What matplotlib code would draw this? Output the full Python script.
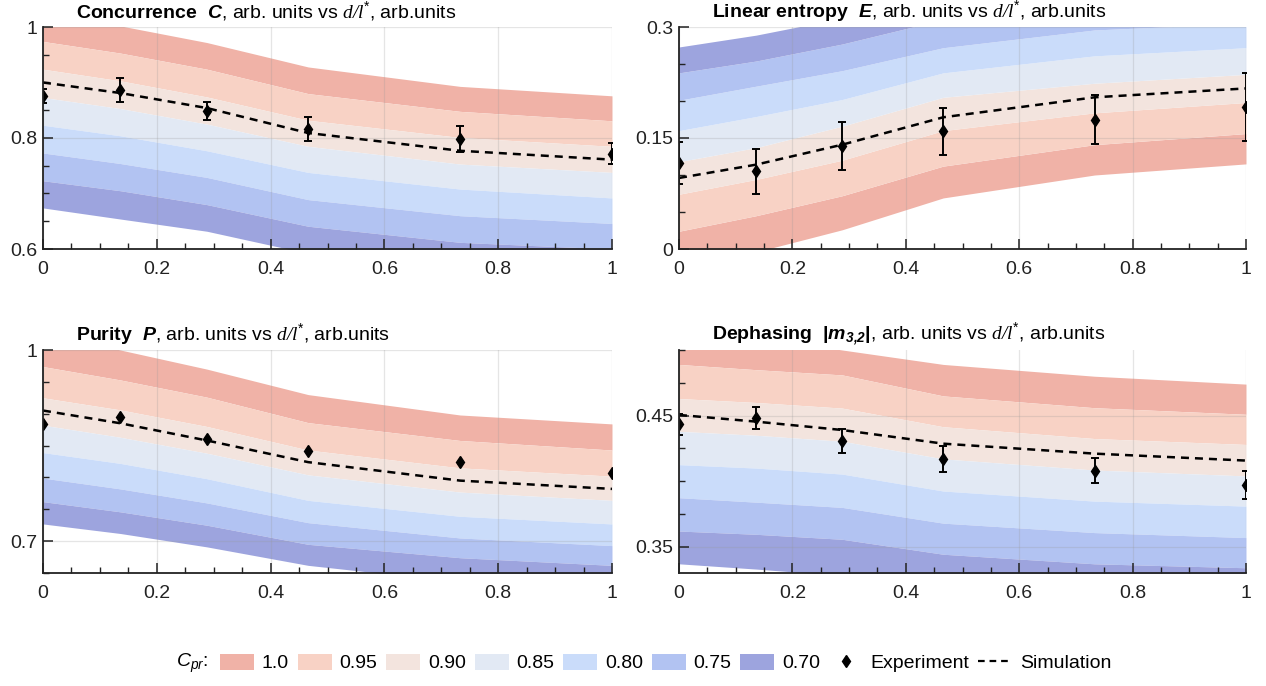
import matplotlib
matplotlib.use('Agg')
import matplotlib.pyplot as plt
from matplotlib.patches import Patch
from matplotlib.lines import Line2D
from matplotlib.ticker import MultipleLocator, FuncFormatter

plt.rcParams['font.family'] = ['Liberation Sans', 'DejaVu Sans']
plt.rcParams['mathtext.fontset'] = 'custom'
plt.rcParams['mathtext.rm'] = 'Liberation Sans'
plt.rcParams['mathtext.it'] = 'Liberation Sans:italic'
plt.rcParams['mathtext.bf'] = 'Liberation Sans:bold'
plt.rcParams['mathtext.bfit'] = 'Liberation Sans:italic:bold'
plt.rcParams['mathtext.cal'] = 'Liberation Serif:italic'

# d/l* positions of the measurements
x = [0, 0.136, 0.288, 0.466, 0.733, 1.0]

levels = ['1.0', '0.95', '0.90', '0.85', '0.80', '0.75', '0.70']
band_colors = ['#F0B2A7', '#F8D2C5', '#F3E4DE', '#E2E9F4', '#CADCFA', '#B2C3F2', '#9DA4DE']

# band edges, outer edge of C_pr=1.0 first, then each boundary down to 0.70
conc_edges = [
    [1.025, 1.002, 0.972, 0.928, 0.893, 0.876],
    [0.974, 0.953, 0.924, 0.880, 0.848, 0.831],
    [0.924, 0.903, 0.874, 0.832, 0.801, 0.785],
    [0.873, 0.853, 0.825, 0.785, 0.753, 0.738],
    [0.823, 0.804, 0.777, 0.738, 0.708, 0.692],
    [0.773, 0.754, 0.729, 0.689, 0.660, 0.646],
    [0.723, 0.705, 0.680, 0.641, 0.612, 0.600],
    [0.674, 0.654, 0.632, 0.592, 0.565, 0.553],
]
conc_sim = [0.900, 0.881, 0.854, 0.809, 0.777, 0.761]
conc_exp = [0.876, 0.886, 0.849, 0.816, 0.798, 0.772]
conc_err = [0.013, 0.022, 0.0165, 0.021, 0.023, 0.019]

ent_edges = [
    [-0.030, -0.004, 0.026, 0.069, 0.100, 0.115],
    [0.024, 0.045, 0.072, 0.112, 0.141, 0.156],
    [0.074, 0.094, 0.120, 0.160, 0.184, 0.198],
    [0.118, 0.137, 0.166, 0.205, 0.224, 0.236],
    [0.160, 0.179, 0.202, 0.238, 0.261, 0.272],
    [0.201, 0.220, 0.241, 0.272, 0.296, 0.305],
    [0.238, 0.254, 0.277, 0.310, 0.332, 0.342],
    [0.273, 0.289, 0.312, 0.345, 0.368, 0.378],
]
ent_sim = [0.096, 0.114, 0.141, 0.178, 0.205, 0.217]
ent_exp = [0.116, 0.105, 0.139, 0.159, 0.175, 0.192]
ent_err = [0.028, 0.030, 0.032, 0.032, 0.033, 0.046]

pur_edges = [
    [1.027, 1.000, 0.970, 0.930, 0.898, 0.884],
    [0.974, 0.953, 0.926, 0.886, 0.858, 0.843],
    [0.925, 0.906, 0.880, 0.843, 0.815, 0.802],
    [0.882, 0.863, 0.838, 0.804, 0.777, 0.764],
    [0.839, 0.822, 0.798, 0.764, 0.739, 0.727],
    [0.799, 0.782, 0.760, 0.729, 0.705, 0.693],
    [0.762, 0.746, 0.725, 0.695, 0.674, 0.662],
    [0.727, 0.712, 0.691, 0.662, 0.636, 0.626],
]
pur_sim = [0.905, 0.885, 0.858, 0.824, 0.795, 0.782]
pur_exp = [0.884, 0.895, 0.860, 0.841, 0.824, 0.807]

deph_edges = [
    [0.518, 0.510, 0.500, 0.489, 0.480, 0.474],
    [0.489, 0.485, 0.481, 0.465, 0.456, 0.451],
    [0.463, 0.460, 0.4557, 0.4415, 0.4325, 0.428],
    [0.438, 0.435, 0.4304, 0.417, 0.4085, 0.404],
    [0.4126, 0.410, 0.4054, 0.3925, 0.3848, 0.381],
    [0.3874, 0.384, 0.380, 0.368, 0.3608, 0.357],
    [0.362, 0.3595, 0.3557, 0.3443, 0.337, 0.334],
    [0.337, 0.333, 0.328, 0.320, 0.313, 0.310],
]
deph_sim = [0.4505, 0.4454, 0.439, 0.4286, 0.421, 0.4157]
deph_exp = [0.4433, 0.448, 0.4304, 0.417, 0.408, 0.397]
deph_err = [0.008, 0.0086, 0.009, 0.0097, 0.0095, 0.0105]

xunit = r', arb. units vs $\mathcal{d/l}^{*}$, arb.units'
titles = [
    r'$\mathbf{Concurrence}$  $\mathbfit{C}$' + xunit,
    r'$\mathbf{Linear\ entropy}$  $\mathbfit{E}$' + xunit,
    r'$\mathbf{Purity}$  $\mathbfit{P}$' + xunit,
    r'$\mathbf{Dephasing}$  $\mathbf{|}\mathbfit{m}_{\mathbfit{3{,}2}}\mathbf{|}$' + xunit,
]


def fmt(v, pos):
    s = '%g' % round(v, 4)
    return s


def panel(ax, edges, sim, exp, err, ylim, yticks, yminor, title):
    for i in range(len(band_colors)):
        ax.fill_between(x, edges[i], edges[i + 1], color=band_colors[i], lw=0, zorder=1)
    ax.plot(x, sim, color='black', lw=1.8, dashes=(3.2, 2.4), zorder=3)
    if err is not None:
        ax.errorbar(x, exp, yerr=err, fmt='none', ecolor='black', elinewidth=1.4,
                    capsize=3.2, capthick=1.4, zorder=4)
    ax.plot(x, exp, 'd', color='black', ms=6.5, zorder=5)
    ax.set_xlim(0, 1)
    ax.set_ylim(*ylim)
    ax.set_xticks([0, 0.2, 0.4, 0.6, 0.8, 1.0])
    ax.set_yticks(yticks)
    ax.xaxis.set_minor_locator(MultipleLocator(0.05))
    ax.yaxis.set_minor_locator(MultipleLocator(yminor))
    ax.xaxis.set_major_formatter(FuncFormatter(fmt))
    ax.yaxis.set_major_formatter(FuncFormatter(fmt))
    ax.tick_params(which='both', direction='in', color='#222222', labelsize=14, labelcolor='#222222')
    ax.tick_params(which='major', length=7, width=1.1)
    ax.tick_params(which='minor', length=4, width=1.0)
    ax.tick_params(axis='x', pad=9)
    ax.tick_params(axis='y', pad=4)
    for side in ['top', 'right']:
        ax.spines[side].set_visible(False)
    for side in ['left', 'bottom']:
        ax.spines[side].set_color('#222222')
        ax.spines[side].set_linewidth(1.3)
        ax.spines[side].set_zorder(6)
    ax.set_axisbelow('line')
    ax.grid(True, which='major', color='#999999', alpha=0.25, lw=0.9)
    ax.annotate(title, xy=(0, 1), xycoords='axes fraction', xytext=(33, 16),
                textcoords='offset pixels', va='center', ha='left', fontsize=14)


fig = plt.figure(figsize=(12.66, 6.86), dpi=100)
W, H = 1266.0, 686.0
ax1 = fig.add_axes([43 / W, 1 - 249 / H, 569 / W, 222 / H])
ax2 = fig.add_axes([679 / W, 1 - 249 / H, 567 / W, 222 / H])
ax3 = fig.add_axes([43 / W, 1 - 573 / H, 569 / W, 223 / H])
ax4 = fig.add_axes([679 / W, 1 - 573 / H, 567 / W, 223 / H])

panel(ax1, conc_edges, conc_sim, conc_exp, conc_err, (0.6, 1.0), [0.6, 0.8, 1.0], 0.05, titles[0])
panel(ax2, ent_edges, ent_sim, ent_exp, ent_err, (0, 0.3), [0, 0.15, 0.3], 0.05, titles[1])
panel(ax3, pur_edges, pur_sim, pur_exp, None, (0.65, 1.0), [0.7, 1.0], 0.05, titles[2])
panel(ax4, deph_edges, deph_sim, deph_exp, deph_err, (0.33, 0.5), [0.35, 0.45], 0.025, titles[3])

handles = [Patch(facecolor=c, edgecolor='none') for c in band_colors]
labels = list(levels)
handles.append(Line2D([], [], ls='none', marker='d', color='black', ms=6.5))
labels.append('Experiment')
handles.append(Line2D([], [], color='black', lw=1.6, dashes=(3, 2.2)))
labels.append('Simulation')

ly = 1 - 663 / H
fig.legend(handles, labels, loc='center left', bbox_to_anchor=(220 / W, ly), ncol=9,
           frameon=False, fontsize=14, handlelength=1.75, handleheight=0.93,
           handletextpad=0.4, columnspacing=0.45, borderpad=0, borderaxespad=0)
fig.text(176 / W, ly, r'$C_{pr}$:', fontsize=14, ha='left', va='center')

fig.savefig('out.png', dpi=100)
